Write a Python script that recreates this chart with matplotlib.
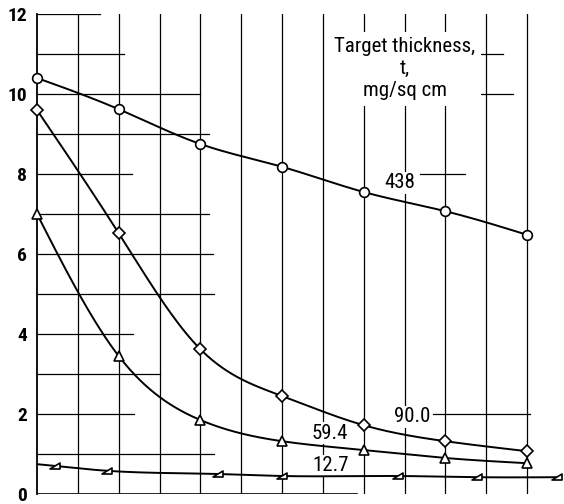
import numpy as np
import matplotlib
matplotlib.use("Agg")
import matplotlib.pyplot as plt
from matplotlib.path import Path

# ---------------- data ----------------
x_main = [0, 1, 2, 3, 4, 5, 6]
t438 = [10.4, 9.62, 8.75, 8.18, 7.55, 7.07, 6.48]
t90 = [9.6, 6.52, 3.62, 2.45, 1.72, 1.32, 1.07]
t59 = [7.0, 3.45, 1.85, 1.32, 1.10, 0.90, 0.77]
x127 = [0.22, 0.86, 2.22, 3.0, 4.42, 5.39, 6.37]
t127 = [0.70, 0.58, 0.50, 0.45, 0.45, 0.42, 0.42]

ytick_vals = [0, 2, 4, 6, 8, 10, 12]
ytick_labels = ["0", "2", "4", "6", "8", "10", "12"]

labels = ["438", "90.0", "59.4", "12.7"]
title_lines = "Target thickness,\nt,\nmg/sq cm"


def natural_spline(x, y, xn):
    x = np.asarray(x, float); y = np.asarray(y, float); xn = np.asarray(xn, float)
    n = len(x); h = np.diff(x)
    A = np.zeros((n, n)); r = np.zeros(n)
    A[0, 0] = A[-1, -1] = 1
    for i in range(1, n - 1):
        A[i, i - 1] = h[i - 1]; A[i, i] = 2 * (h[i - 1] + h[i]); A[i, i + 1] = h[i]
        r[i] = 6 * ((y[i + 1] - y[i]) / h[i] - (y[i] - y[i - 1]) / h[i - 1])
    M = np.linalg.solve(A, r)
    out = np.empty_like(xn)
    for j, xv in enumerate(xn):
        k = int(np.clip(np.searchsorted(x, xv) - 1, 0, n - 2))
        a = x[k + 1] - xv; b = xv - x[k]
        out[j] = (M[k] * a**3 + M[k + 1] * b**3) / (6 * h[k]) \
            + (y[k] / h[k] - M[k] * h[k] / 6) * a + (y[k + 1] / h[k] - M[k + 1] * h[k] / 6) * b
    return out


plt.rcParams['font.family'] = ['Roboto Condensed', 'DejaVu Sans']

fig = plt.figure(figsize=(5.64, 5.04), dpi=100)
ax = fig.add_axes([37 / 564, 10 / 504, 1 - 37 / 564, 480 / 504])
ax.set_xlim(0, (564 - 37) / 81.67)
ax.set_ylim(0, 12)

for s in ["top", "right", "bottom"]:
    ax.spines[s].set_visible(False)
ax.spines["left"].set_linewidth(1.3)
ax.set_xticks([])
ax.set_yticks(ytick_vals)
ax.set_yticklabels(ytick_labels, fontsize=14, fontweight="bold")
ax.tick_params(axis="y", length=0, pad=7)

# vertical grid lines
for xv in np.arange(0.5, 6.01, 0.5):
    ax.plot([xv, xv], [0, 12], color="black", lw=0.9, zorder=1)

# horizontal grid fragments (as seen on the scanned sheet)
hsegs = [(12, 0, 0.77), (11, 0, 1.07), (11, 5.4, 5.7), (10, 0, 2.0), (10, 5.4, 5.83),
         (9, 0, 2.1), (8, 0, 1.16), (8, 4.69, 5.24), (7, 0, 2.1), (6, 0, 2.15),
         (5, 0, 2.17), (4, 0, 1.18), (3, 0, 1.5), (2, 0, 1.19), (2, 4.85, 6.04),
         (1, 0, 2.17), (0, 0, 3.92)]
for yv, a, b in hsegs:
    ax.plot([a, b], [yv, yv], color="black", lw=0.9 if yv else 1.2, zorder=1)

# custom flagged triangle marker
tri_flag = Path([(-1, -0.7), (1, -0.7), (1, 0.7), (-1, -0.7)],
                [Path.MOVETO, Path.LINETO, Path.LINETO, Path.CLOSEPOLY])

xs = np.linspace(0, 6, 300)
ax.plot(xs, natural_spline(x_main, t438, xs), color="black", lw=1.4, zorder=4)
ax.plot(xs, natural_spline(x_main, t90, xs), color="black", lw=1.4, zorder=4)
ax.plot(xs, natural_spline(x_main, t59, xs), color="black", lw=1.4, zorder=4)
xs2 = np.linspace(0, x127[-1], 300)
ax.plot(xs2, natural_spline(x127, t127, xs2), color="black", lw=1.4, zorder=4)

mk = dict(color="black", mfc="white", mec="black", mew=1.2, ls="none", zorder=5, clip_on=False)
ax.plot(x_main, t438, marker="o", ms=7, **mk)
ax.plot(x_main, t90, marker="D", ms=6.5, **mk)
ax.plot(x_main, t59, marker="^", ms=6.5, **mk)
ax.plot(x127, t127, marker=tri_flag, ms=7, **mk)

box = dict(facecolor="white", edgecolor="none", pad=1.0)
ax.text(4.44, 7.78, labels[0], fontsize=15, ha="center", va="center", bbox=box, zorder=3)
ax.text(4.60, 1.93, labels[1], fontsize=15, ha="center", va="center", bbox=box, zorder=3)
ax.text(3.59, 1.52, labels[2], fontsize=15, ha="center", va="center", bbox=box, zorder=3)
ax.text(3.59, 0.71, labels[3], fontsize=15, ha="center", va="center", bbox=box, zorder=3)

ax.text(4.50, 11.42, title_lines, fontsize=15, ha="center", va="top", linespacing=1.2,
        bbox=dict(facecolor="white", edgecolor="none", pad=4), zorder=3)

fig.savefig("out.png", dpi=100, facecolor="white")
